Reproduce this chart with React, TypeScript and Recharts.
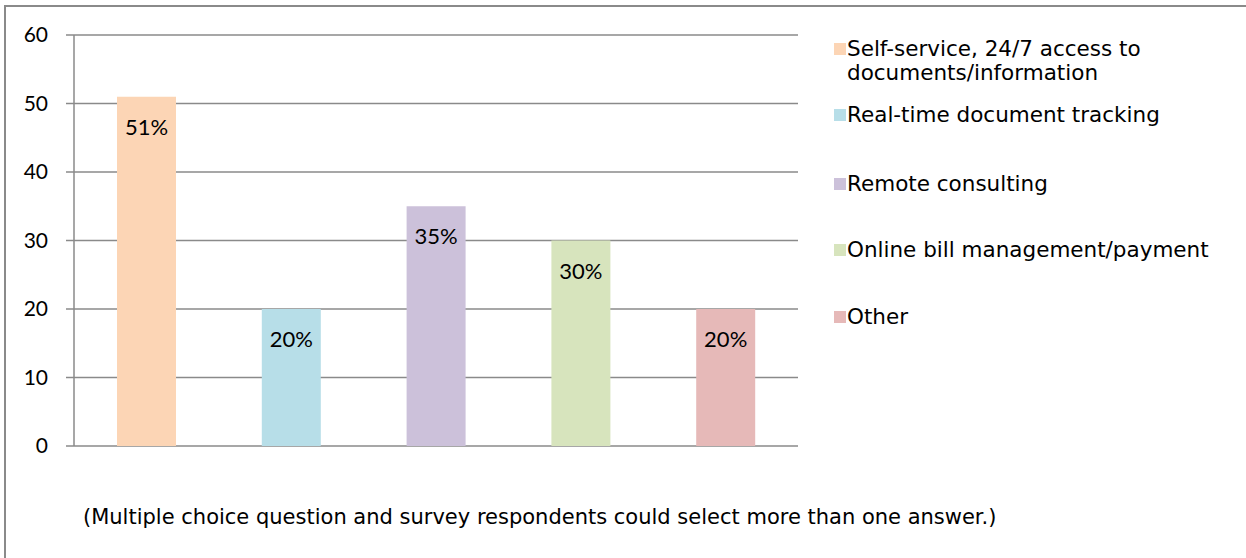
import React from 'react';
import { BarChart, Bar, XAxis, YAxis, CartesianGrid, Cell, LabelList } from 'recharts';

const categories = [
  'Self-service, 24/7 access to documents/information',
  'Real-time document tracking',
  'Remote consulting',
  'Online bill management/payment',
  'Other',
];
const values = [51, 20, 35, 30, 20];
const valueLabels = ['51%', '20%', '35%', '30%', '20%'];
const colors = ['#FCD5B5', '#B7DEE8', '#CCC1DA', '#D7E4BD', '#E6B9B8'];
const yTicks = [0, 10, 20, 30, 40, 50, 60];
const footnote = '(Multiple choice question and survey respondents could select more than one answer.)';

const data = categories.map((c, i) => ({ name: c, value: values[i], label: valueLabels[i] }));

const legendTops = [37, 103, 172, 238, 305];
const GRID = '#8a8a8a';

const renderLabel = (props: any) => {
  const { x, y, width, index } = props;
  return (
    <text
      x={Number(x) + Number(width) / 2}
      y={Number(y) + 38}
      textAnchor="middle"
      fontFamily="Lato, 'Open Sans', sans-serif"
      fontSize={22}
      fill="#000"
    >
      {valueLabels[index]}
    </text>
  );
};

export default function App() {
  return (
    <div style={{ position: 'absolute', left: 0, top: 0, width: 1246, height: 558, background: '#fff', overflow: 'hidden' }}>
      <div
        style={{
          position: 'absolute',
          left: 4,
          top: 5,
          width: 1300,
          height: 600,
          borderTop: `2px solid ${GRID}`,
          borderLeft: `2px solid ${GRID}`,
          boxSizing: 'border-box',
        }}
      />
      <div style={{ position: 'absolute', left: 0, top: 0 }}>
        <BarChart
          width={1246}
          height={558}
          data={data}
          margin={{ top: 35, right: 448, bottom: 112, left: 0 }}
          barCategoryGap={0}
        >
          <CartesianGrid vertical={false} stroke={GRID} strokeWidth={1.5} />
          <XAxis dataKey="name" tick={false} tickLine={false} axisLine={{ stroke: GRID, strokeWidth: 1.5 }} height={0} />
          <YAxis
            width={74}
            domain={[0, 60]}
            ticks={yTicks}
            interval={0}
            tickSize={8}
            tickMargin={18}
            tickLine={{ stroke: GRID, strokeWidth: 1.5 }}
            axisLine={{ stroke: GRID, strokeWidth: 1.5 }}
            tick={{ fill: '#000', fontSize: 21, fontFamily: "Lato, 'Open Sans', sans-serif" }}
          />
          <Bar dataKey="value" barSize={59} isAnimationActive={false}>
            {data.map((d, i) => (
              <Cell key={d.name} fill={colors[i]} />
            ))}
            <LabelList dataKey="label" content={renderLabel} />
          </Bar>
        </BarChart>
      </div>
      {categories.map((c, i) => (
        <div
          key={c}
          style={{
            position: 'absolute',
            left: 834,
            top: legendTops[i],
            fontFamily: "Verdana, 'DejaVu Sans', sans-serif",
            fontSize: 21.5,
            lineHeight: '24px',
            color: '#000',
          }}
        >
          <span
            style={{
              position: 'absolute',
              left: 0,
              top: 6,
              width: 12,
              height: 12,
              background: colors[i],
            }}
          />
          <div style={{ marginLeft: 13, width: 395 }}>{c}</div>
        </div>
      ))}
      <div
        style={{
          position: 'absolute',
          left: 83,
          top: 505,
          fontFamily: "Verdana, 'DejaVu Sans', sans-serif",
          fontSize: 21,
          lineHeight: '24px',
          color: '#000',
          whiteSpace: 'nowrap',
        }}
      >
        {footnote}
      </div>
    </div>
  );
}
